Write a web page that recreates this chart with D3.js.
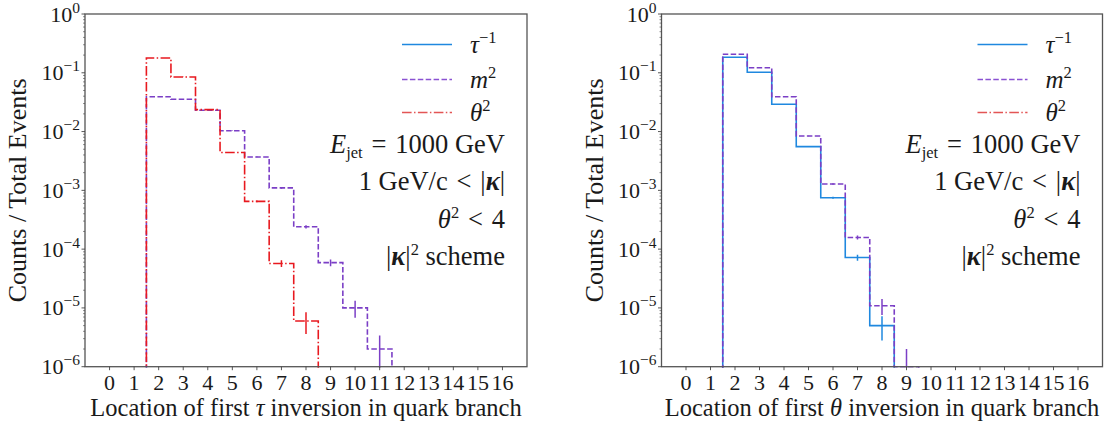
<!DOCTYPE html>
<html>
<head>
<meta charset="utf-8">
<script src="https://cdn.jsdelivr.net/npm/d3@7"></script>
<style>
  html, body { margin: 0; padding: 0; background: #fff; }
  svg { display: block; }
  text { font-family: "Liberation Serif", "DejaVu Serif", serif; fill: #1a1a1a; }
</style>
</head>
<body>
<svg id="chart" width="1107" height="425"></svg>
<script>
// ---------------- DATA ----------------
const xTicks = [0, 1, 2, 3, 4, 5, 6, 7, 8, 9, 10, 11, 12, 13, 14, 15, 16];
const yTickExps = [0, -1, -2, -3, -4, -5, -6];

// Left panel: first tau inversion
const tauM2Bins = [2, 3, 4, 5, 6, 7, 8, 9, 10, 11];
const tauM2Vals = [0.039, 0.0355, 0.0230, 0.0103, 0.0037, 0.0011, 0.00024, 5.9e-5, 1.0e-5, 2.0e-6];
const tauM2Errs = [2.0e-4, 1.9e-4, 1.5e-4, 1.0e-4, 6.1e-5, 3.3e-5, 1.55e-5, 7.7e-6, 3.2e-6, 1.4e-6];

const tauTh2Bins = [2, 3, 4, 5, 6, 7, 8];
const tauTh2Vals = [0.178, 0.085, 0.0236, 0.0044, 6.5e-4, 5.7e-5, 6.0e-6];
const tauTh2Errs = [4.2e-4, 2.9e-4, 1.5e-4, 6.6e-5, 2.5e-5, 7.5e-6, 2.4e-6];

// Right panel: first theta inversion
const thTauBins = [2, 3, 4, 5, 6, 7, 8];
const thTauVals = [0.184, 0.102, 0.0291, 0.00555, 7.5e-4, 7.2e-5, 5.0e-6];
const thTauErrs = [4.3e-4, 3.2e-4, 1.7e-4, 7.4e-5, 2.7e-5, 8.5e-6, 2.2e-6];

const thM2Bins = [2, 3, 4, 5, 6, 7, 8, 9];
const thM2Vals = [0.207, 0.122, 0.039, 0.0084, 0.00128, 1.58e-4, 1.09e-5, 1.0e-6];
const thM2Errs = [4.5e-4, 3.5e-4, 2.0e-4, 9.2e-5, 3.6e-5, 1.26e-5, 3.3e-6, 1.0e-6];

const colors = { tau: "#1f88df", m2: "#7b3fc6", th2: "#e8191f" };
const legendColors = { tau: "#1f88df", m2: "#8a52d2", th2: "#e35555" };

// ---------------- DRAW ----------------
const svg = d3.select("#chart");
const FS = 25;      // legend text size
const FA = 26.5;    // annotation text size
const FT = 22;      // tick label size
const FSUP = 16.5;  // superscript size
const REL = (s) => " \u200A" + s + "\u200A ";

function drawPanel(cfg) {
  const g = svg.append("g");
  const x = d3.scaleLinear().domain([-1, 17]).range([cfg.x0, cfg.x1]);
  const y = d3.scaleLog().domain([1e-6, 1]).range([cfg.y1, cfg.y0]);

  const clipId = "clip" + cfg.id;
  svg.append("defs").append("clipPath").attr("id", clipId)
    .append("rect").attr("x", cfg.x0).attr("y", cfg.y0)
    .attr("width", cfg.x1 - cfg.x0).attr("height", cfg.y1 - cfg.y0 + 1);

  const plot = g.append("g").attr("clip-path", `url(#${clipId})`);
  const line = d3.line().x(d => x(d[0])).y(d => y(d[1]));

  cfg.series.forEach(s => {
    const pts = [[s.bins[0] - 0.5, 1e-7]];
    s.bins.forEach((b, i) => {
      pts.push([b - 0.5, s.vals[i]]);
      pts.push([b + 0.5, s.vals[i]]);
    });
    pts.push([s.bins[s.bins.length - 1] + 0.5, 1e-7]);
    plot.append("path").attr("d", line(pts))
      .attr("fill", "none").attr("stroke", s.color)
      .attr("stroke-width", 1.6)
      .attr("stroke-dasharray", s.dash || null);
    s.bins.forEach((b, i) => {
      const lo = Math.max(s.vals[i] - s.errs[i], 1e-8);
      const hi = s.vals[i] + s.errs[i];
      plot.append("line")
        .attr("x1", x(b)).attr("x2", x(b))
        .attr("y1", y(lo)).attr("y2", y(hi))
        .attr("stroke", s.color).attr("stroke-width", 1.5);
    });
  });

  // spines
  g.append("rect").attr("x", cfg.x0).attr("y", cfg.y0)
    .attr("width", cfg.x1 - cfg.x0).attr("height", cfg.y1 - cfg.y0)
    .attr("fill", "none").attr("stroke", "#555").attr("stroke-width", 1.3);

  // x ticks
  const xa = g.append("g");
  xTicks.forEach(t => {
    xa.append("line").attr("x1", x(t)).attr("x2", x(t))
      .attr("y1", cfg.y1).attr("y2", cfg.y1 + 3.5)
      .attr("stroke", "#444").attr("stroke-width", 0.9);
    xa.append("text").attr("x", x(t)).attr("y", cfg.y1 + 23.5)
      .attr("text-anchor", "middle").attr("font-size", FT).text(t);
  });

  // y ticks (major + minor)
  const ya = g.append("g");
  yTickExps.forEach(e => {
    const v = Math.pow(10, e);
    ya.append("line").attr("x1", cfg.x0 - 3.5).attr("x2", cfg.x0)
      .attr("y1", y(v)).attr("y2", y(v))
      .attr("stroke", "#444").attr("stroke-width", 0.9);
    const t = ya.append("text").attr("x", cfg.x0 - 5).attr("y", y(v) + 7.5)
      .attr("text-anchor", "end").attr("font-size", FT);
    t.append("tspan").text("10");
    t.append("tspan").attr("dy", -9).attr("font-size", 15.5)
      .text(e === 0 ? "0" : "\u2212" + Math.abs(e));
    if (e > -6) {
      for (let k = 2; k <= 9; k++) {
        const mv = k * Math.pow(10, e - 1);
        ya.append("line").attr("x1", cfg.x0 - 2).attr("x2", cfg.x0)
          .attr("y1", y(mv)).attr("y2", y(mv))
          .attr("stroke", "#444").attr("stroke-width", 0.6);
      }
    }
  });

  // axis titles
  const xt = g.append("text").attr("x", (cfg.x0 + cfg.x1) / 2).attr("y", 416)
    .attr("text-anchor", "middle").attr("font-size", 24.5);
  xt.append("tspan").text("Location of first ");
  xt.append("tspan").attr("font-style", "italic").text(cfg.sym);
  xt.append("tspan").text(" inversion in quark branch");

  g.append("text")
    .attr("transform", `translate(${cfg.x0 - 59},${(cfg.y0 + cfg.y1) / 2}) rotate(-90)`)
    .attr("text-anchor", "middle").attr("font-size", 26)
    .text("Counts / Total Events");

  // legend
  const legendItems = [
    { key: "tau", dash: null, base: "τ", sup: "\u22121" },
    { key: "m2", dash: "5.5,2.4", base: "m", sup: "2" },
    { key: "th2", dash: "9.6,2.4,1.5,2.4", base: "θ", sup: "2" }
  ];
  const legY = [44.5, 79.5, 112.5];
  legendItems.forEach((it, i) => {
    g.append("line").attr("x1", cfg.x1 - 125).attr("x2", cfg.x1 - 75)
      .attr("y1", legY[i]).attr("y2", legY[i])
      .attr("stroke", legendColors[it.key]).attr("stroke-width", 1.6)
      .attr("stroke-dasharray", it.dash);
    const t = g.append("text").attr("x", cfg.x1 - 57).attr("y", legY[i] + 8)
      .attr("font-size", FS);
    t.append("tspan").attr("font-style", "italic").text(it.base);
    t.append("tspan").attr("dy", -10).attr("font-size", FSUP).text(it.sup);
  });

  // annotation text
  const ax = cfg.x1 - 22;
  const t1 = g.append("text").attr("x", ax).attr("y", 153).attr("text-anchor", "end").attr("font-size", FA);
  t1.append("tspan").attr("font-style", "italic").text("E");
  t1.append("tspan").attr("dy", 5).attr("font-size", FSUP).text("jet");
  t1.append("tspan").attr("dy", -5).text(REL("=") + "1000 GeV");

  const t2 = g.append("text").attr("x", ax).attr("y", 190).attr("text-anchor", "end").attr("font-size", FA);
  t2.append("tspan").text("1 GeV/c" + REL("<") + "|");
  t2.append("tspan").attr("font-style", "italic").attr("font-weight", "bold").text("κ");
  t2.append("tspan").text("|");

  const t3 = g.append("text").attr("x", ax).attr("y", 228).attr("text-anchor", "end").attr("font-size", FA);
  t3.append("tspan").attr("font-style", "italic").text("θ");
  t3.append("tspan").attr("dy", -10).attr("font-size", FSUP).text("2");
  t3.append("tspan").attr("dy", 10).text(REL("<") + "4");

  const t4 = g.append("text").attr("x", ax).attr("y", 265).attr("text-anchor", "end").attr("font-size", FA);
  t4.append("tspan").text("|");
  t4.append("tspan").attr("font-style", "italic").attr("font-weight", "bold").text("κ");
  t4.append("tspan").text("|");
  t4.append("tspan").attr("dy", -10).attr("font-size", FSUP).text("2");
  t4.append("tspan").attr("dy", 10).text(" scheme");
}

drawPanel({
  id: "L", x0: 85, x1: 527, y0: 14, y1: 366.7, sym: "τ",
  series: [
    { bins: tauM2Bins, vals: tauM2Vals, errs: tauM2Errs, color: colors.m2, dash: "5.5,2.4" },
    { bins: tauTh2Bins, vals: tauTh2Vals, errs: tauTh2Errs, color: colors.th2, dash: "9.6,2.4,1.5,2.4" }
  ]
});

drawPanel({
  id: "R", x0: 661.5, x1: 1102.5, y0: 14, y1: 366.7, sym: "θ",
  series: [
    { bins: thTauBins, vals: thTauVals, errs: thTauErrs, color: colors.tau, dash: null },
    { bins: thM2Bins, vals: thM2Vals, errs: thM2Errs, color: colors.m2, dash: "5.5,2.4" }
  ]
});
</script>
</body>
</html>
